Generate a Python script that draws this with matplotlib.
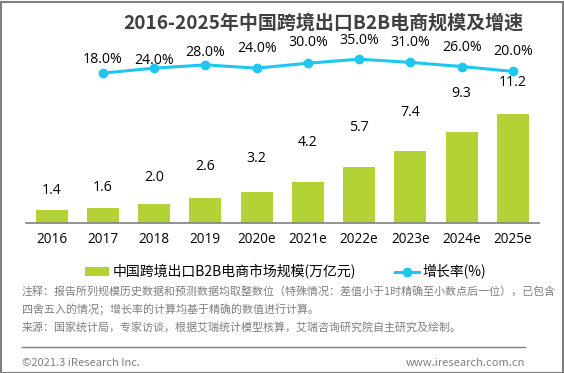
import matplotlib
matplotlib.use('Agg')
import matplotlib.pyplot as plt
from matplotlib.patches import Rectangle
from matplotlib.lines import Line2D

plt.rcParams['font.family'] = ['Noto Sans CJK SC', 'DejaVu Sans']
num_font = ['Open Sans', 'DejaVu Sans']

years = ['2016', '2017', '2018', '2019', '2020e', '2021e', '2022e', '2023e', '2024e', '2025e']
scale = [1.4, 1.6, 2.0, 2.6, 3.2, 4.2, 5.7, 7.4, 9.3, 11.2]
growth_years = years[1:]
growth = [18.0, 24.0, 28.0, 24.0, 30.0, 35.0, 31.0, 26.0, 20.0]

title = '2016-2025年中国跨境出口B2B电商规模及增速'
bar_name = '中国跨境出口B2B电商市场规模(万亿元)'
line_name = '增长率(%)'
notes = ['注释：报告所列规模历史数据和预测数据均取整数位（特殊情况：差值小于1时精确至小数点后一位），已包含',
         '四舍五入的情况；增长率的计算均基于精确的数值进行计算。',
         '来源：国家统计局，专家访谈，根据艾瑞统计模型核算，艾瑞咨询研究院自主研究及绘制。']
footer_left = '©2021.3 iResearch Inc.'
footer_right = 'www.iresearch.com.cn'

# label offsets above the marks (points)
bar_label_off = [13.4, 14.6, 19.2, 22.2, 24.4, 28.2, 29.1, 27.2, 28.0, 22.2]
pct_label_off = [9.6, 5.3, 8.9, 14.2, 14.9, 13.7, 14.6, 13.9, 14.4]

green = '#b3d235'
blue = '#1fc6f0'
gray = '#7f7f7f'
W, H = 564, 373

fig = plt.figure(figsize=(W / 100, H / 100), dpi=100)
ax = fig.add_axes([26 / W, 1 - 223.3 / H, 512.5 / W, 183.3 / H])
x = list(range(len(years)))
ax.bar(x, scale, width=0.62, color=green, label=bar_name)
ax.set_xlim(-0.5, 9.5)
ax.set_ylim(0, 18.7)
ax.set_xticks(x)
ax.set_xticklabels(years, fontsize=9.8, color='#000000', family=num_font)
ax.tick_params(axis='x', length=0, pad=6)
ax.set_yticks([])
for s in ['top', 'right', 'left']:
    ax.spines[s].set_visible(False)
ax.spines['bottom'].set_color(gray)
ax.spines['bottom'].set_linewidth(1.2)
for xi, v, off in zip(x, scale, bar_label_off):
    ax.annotate('%.1f' % v, (xi, v), xytext=(0, off), textcoords='offset points',
                ha='center', va='center', fontsize=10.2, family=num_font)

ax2 = ax.twinx()
gx = x[1:]
ax2.plot(gx, growth, color=blue, lw=2.2, marker='o', ms=6, label=line_name)
ax2.set_ylim(-165, 58.3)
ax2.set_yticks([])
for s in ['top', 'right', 'left', 'bottom']:
    ax2.spines[s].set_visible(False)
for xi, v, off in zip(gx, growth, pct_label_off):
    ax2.annotate('%.1f%%' % v, (xi, v), xytext=(0, off), textcoords='offset points',
                 ha='center', va='center', fontsize=10.2, family=num_font)

fig.text(323 / W, 1 - 23 / H, title, ha='center', va='center', fontsize=13.7,
         fontweight='bold', color='#404040')

h1, l1 = ax.get_legend_handles_labels()
h2, l2 = ax2.get_legend_handles_labels()
fig.legend(h1 + h2, l1 + l2, loc='center', bbox_to_anchor=(285.4 / W, 1 - 272 / H),
           ncol=2, frameon=False, fontsize=10, handlelength=1.75, handleheight=0.58,
           handletextpad=0.25, columnspacing=2.8, borderpad=0, borderaxespad=0)

for t, yy in zip(notes, [291, 309, 327]):
    fig.text(22 / W, 1 - yy / H, t, ha='left', va='center', fontsize=7.9, color=gray)

fig.add_artist(Line2D([22.3 / W, 525 / W], [1 - 346.7 / H] * 2, color=gray, lw=1))
fig.text(22 / W, 1 - 363.3 / H, footer_left, ha='left', va='center', fontsize=8, color=gray)
fig.text(525 / W, 1 - 363.3 / H, footer_right, ha='right', va='center', fontsize=8, color=gray)
fig.add_artist(Rectangle((0.5 / W, 0.5 / H), 1 - 2 / W, 1 - 2 / H, transform=fig.transFigure,
                         fill=False, edgecolor=gray, lw=1.5))

fig.savefig('out.png', dpi=100)
